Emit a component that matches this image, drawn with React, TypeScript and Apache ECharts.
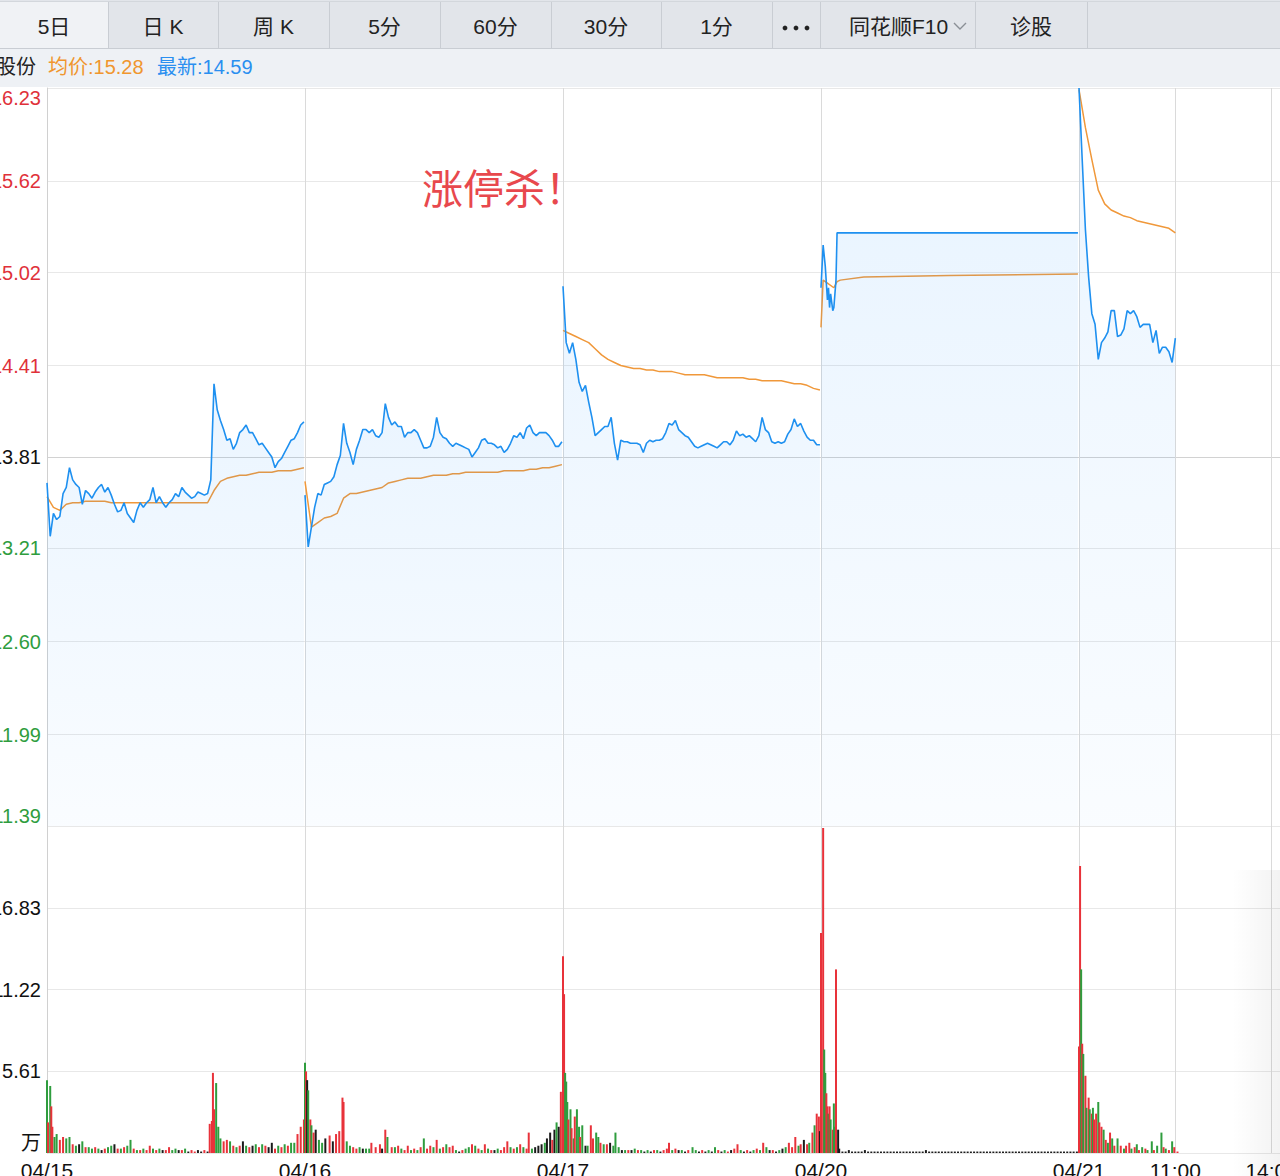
import React, { useEffect, useRef } from 'react';
import * as echarts from 'echarts';

// ---------------- DATA ----------------
const prevClose = 13.81;
const priceTicks = [11.39, 11.99, 12.6, 13.21, 13.81, 14.41, 15.02, 15.62, 16.23];
const volumeTicks = [0, 5.61, 11.22, 16.83];
const volumeMax = 22.44;
const xTickLabels = ['04/15', '04/16', '04/17', '04/20', '04/21', '11:00', '14:00'];
const MIN_PER_DAY = 241;
// tick minutes: day starts + 11:00 and 14:00 of the last day
const xTickMinutes = [0, 241, 482, 723, 964, 964 + 90, 964 + 180];
const tabLabels = ['5日', '日 K', '周 K', '5分', '60分', '30分', '1分', '', '同花顺F10', '诊股'];

// price every 3 minutes
const price0415 = [
  13.64, 13.29, 13.44, 13.40, 13.42, 13.57, 13.61, 13.74, 13.66, 13.63,
  13.61, 13.50, 13.59, 13.57, 13.54, 13.58, 13.61, 13.63, 13.58, 13.61,
  13.56, 13.50, 13.45, 13.46, 13.51, 13.44, 13.41, 13.38, 13.46, 13.51,
  13.48, 13.51, 13.53, 13.61, 13.51, 13.55, 13.51, 13.48, 13.51, 13.53,
  13.57, 13.55, 13.61, 13.58, 13.56, 13.54, 13.55, 13.58, 13.57, 13.56,
  13.57, 13.66, 14.29, 14.12, 14.05, 13.99, 13.92, 13.93, 13.86, 13.90,
  13.97, 13.99, 14.02, 13.97, 13.97, 13.93, 13.89, 13.90, 13.87, 13.84,
  13.81, 13.74, 13.78, 13.80, 13.84, 13.88, 13.92, 13.93, 13.97, 14.02,
  14.04,
];
const price0416 = [
  13.56, 13.22, 13.35, 13.48, 13.57, 13.56, 13.63, 13.64, 13.65, 13.68,
  13.76, 13.82, 14.03, 13.90, 13.84, 13.76, 13.86, 13.92, 13.99, 13.99,
  13.97, 13.99, 13.95, 13.94, 13.97, 14.16, 14.07, 14.02, 14.04, 14.01,
  14.01, 13.94, 13.97, 13.97, 13.99, 13.97, 13.92, 13.87, 13.87, 13.88,
  13.94, 14.07, 13.97, 13.94, 13.93, 13.90, 13.88, 13.90, 13.89, 13.88,
  13.87, 13.86, 13.81, 13.84, 13.87, 13.92, 13.93, 13.90, 13.90, 13.89,
  13.87, 13.88, 13.84, 13.86, 13.90, 13.95, 13.94, 13.97, 13.93, 14.00,
  14.02, 13.97, 13.95, 13.97, 13.97, 13.97, 13.95, 13.92, 13.88, 13.88,
  13.91,
];
const price0417 = [
  14.93, 14.56, 14.49, 14.56, 14.45, 14.30, 14.24, 14.28, 14.17, 14.07,
  13.95, 13.97, 13.99, 14.01, 14.01, 14.07, 13.90, 13.79, 13.92, 13.91,
  13.91, 13.90, 13.90, 13.90, 13.89, 13.84, 13.90, 13.92, 13.91, 13.92,
  13.92, 13.93, 13.97, 14.03, 14.02, 14.05, 13.99, 13.97, 13.95, 13.94,
  13.91, 13.88, 13.87, 13.88, 13.89, 13.90, 13.89, 13.88, 13.87, 13.89,
  13.91, 13.91, 13.89, 13.92, 13.98, 13.95, 13.96, 13.94, 13.95, 13.93,
  13.91, 13.95, 14.07, 13.99, 13.97, 13.91, 13.90, 13.91, 13.90, 13.91,
  13.96, 13.99, 14.06, 14.01, 14.03, 13.98, 13.94, 13.92, 13.92, 13.89,
  13.89,
];
// [minute, price]
const price0420 = [
  [0, 14.92], [2, 15.20], [4, 15.06], [6, 14.84], [7, 14.92], [8, 14.79], [9, 14.88],
  [11, 14.77], [12, 14.79], [14, 14.97], [15, 15.28], [240, 15.28],
];
const price0421 = [
  16.23, 15.76, 15.30, 14.99, 14.75, 14.68, 14.45, 14.56, 14.59, 14.63,
  14.77, 14.77, 14.60, 14.61, 14.65, 14.77, 14.75, 14.77, 14.73, 14.66,
  14.68, 14.68, 14.68, 14.56, 14.64, 14.49, 14.53, 14.53, 14.50, 14.43,
  14.59,
];

// average price every 6 minutes
const avg0415 = [
  13.55, 13.48, 13.46, 13.50, 13.51, 13.51, 13.52, 13.52, 13.52, 13.52,
  13.51, 13.51, 13.51, 13.51, 13.51, 13.51, 13.51, 13.51, 13.51, 13.51,
  13.51, 13.51, 13.51, 13.51, 13.51, 13.51, 13.59, 13.65, 13.67, 13.68,
  13.69, 13.69, 13.70, 13.71, 13.71, 13.71, 13.72, 13.72, 13.72, 13.73,
  13.74,
];
const avg0416 = [
  13.65, 13.35, 13.38, 13.41, 13.42, 13.44, 13.54, 13.57, 13.57, 13.58,
  13.59, 13.60, 13.61, 13.64, 13.65, 13.66, 13.67, 13.67, 13.67, 13.68,
  13.69, 13.69, 13.69, 13.70, 13.70, 13.71, 13.71, 13.71, 13.71, 13.71,
  13.71, 13.72, 13.72, 13.72, 13.72, 13.73, 13.73, 13.74, 13.74, 13.75,
  13.76,
];
const avg0417 = [
  14.64, 14.62, 14.60, 14.58, 14.56, 14.52, 14.48, 14.45, 14.43, 14.41,
  14.40, 14.39, 14.39, 14.38, 14.38, 14.37, 14.37, 14.37, 14.36, 14.35,
  14.35, 14.35, 14.35, 14.34, 14.33, 14.33, 14.33, 14.33, 14.33, 14.32,
  14.32, 14.31, 14.31, 14.31, 14.31, 14.30, 14.29, 14.29, 14.28, 14.26,
  14.25,
];
const avg0420 = [
  [0, 14.66], [2, 14.97], [6, 14.95], [12, 14.92], [15, 14.96], [18, 14.97],
  [40, 14.99], [120, 15.00], [240, 15.01],
];
const avg0421 = [
  16.22, 15.97, 15.76, 15.56, 15.47, 15.43, 15.41, 15.39, 15.38, 15.36,
  15.35, 15.34, 15.33, 15.32, 15.31, 15.28,
];

// volume [minute, 万股, direction: 1 up, -1 down, 0 flat]
const vol0415 = [
  [0, 5.0, -1], [1, 2.1, 1], [3, 4.6, -1], [4, 3.2, 1], [5, 1.8, 1], [7, 1.1, -1], [9, 1.3, -1],
  [12, 0.9, 1], [15, 1.1, 1], [18, 1.0, -1], [21, 1.1, -1], [24, 0.6, 1], [27, 0.5, -1],
  [30, 0.6, 0], [33, 0.8, -1], [36, 0.4, 1], [39, 0.4, -1], [42, 0.3, -1], [45, 0.4, 1],
  [48, 0.3, -1], [51, 0.2, 0], [54, 0.3, 1], [57, 0.4, -1], [60, 0.5, -1], [63, 0.6, 0],
  [66, 0.3, 1], [69, 0.3, -1], [72, 0.4, 1], [75, 0.5, -1], [78, 0.9, -1], [81, 0.3, 1],
  [84, 0.2, -1], [87, 0.2, 1], [90, 0.3, -1], [93, 0.2, 1], [96, 0.5, 1], [99, 0.3, -1],
  [102, 0.2, 1], [105, 0.3, -1], [108, 0.2, 0], [111, 0.2, 1], [114, 0.4, 1], [117, 0.2, -1],
  [120, 0.3, -1], [123, 0.2, 0], [126, 0.2, 1], [129, 0.3, -1], [132, 0.1, 0], [135, 0.2, 1],
  [138, 0.1, 1], [141, 0.2, 0], [144, 0.1, 0], [147, 0.2, 1], [150, 0.1, 0], [152, 2.0, 1],
  [154, 2.2, 1], [155, 5.5, 1], [156, 3.0, 1], [158, 4.8, -1], [160, 1.8, -1], [162, 1.0, -1],
  [165, 0.8, 1], [168, 0.9, 1], [171, 0.8, -1], [174, 0.5, 1], [177, 0.4, -1], [180, 0.5, 1],
  [183, 0.8, 0], [186, 0.5, -1], [189, 0.4, 1], [192, 0.5, 0], [195, 0.6, -1], [198, 0.4, 1],
  [201, 0.6, -1], [204, 0.5, 1], [207, 0.4, 0], [210, 0.7, 0], [213, 0.3, 1], [216, 0.5, -1],
  [219, 0.4, 1], [222, 0.6, -1], [225, 0.5, 1], [228, 0.7, -1], [231, 0.7, -1], [234, 1.3, 1],
  [237, 1.8, 1], [240, 2.3, 1],
];
const vol0416 = [
  [0, 6.2, -1], [1, 5.6, 1], [2, 5.0, 0], [3, 4.3, -1], [5, 2.3, 1], [6, 1.9, -1], [8, 1.4, 1],
  [10, 1.6, 0], [13, 0.9, -1], [16, 0.7, -1], [19, 1.0, 0], [23, 1.2, 1], [26, 0.8, 0],
  [29, 1.3, 1], [32, 1.5, 1], [35, 3.8, 1], [36, 3.5, 1], [39, 0.8, -1], [42, 0.5, -1],
  [45, 0.4, 1], [48, 0.3, 1], [51, 0.4, -1], [54, 0.3, 0], [57, 0.3, -1], [60, 0.3, -1],
  [62, 0.7, 1], [66, 0.4, 1], [70, 0.6, 1], [72, 0.3, 0], [75, 1.6, 1], [77, 1.1, -1],
  [81, 0.4, 1], [84, 0.4, -1], [87, 0.5, 1], [90, 0.3, -1], [93, 0.2, 1], [96, 0.5, 1],
  [99, 0.2, -1], [102, 0.3, 1], [105, 0.2, -1], [108, 0.4, 1], [111, 1.0, -1], [114, 0.3, 1],
  [117, 0.5, 1], [120, 0.4, -1], [123, 0.9, 1], [126, 0.3, -1], [129, 0.4, 1], [132, 0.6, -1],
  [135, 0.4, 1], [138, 0.5, 1], [141, 0.2, -1], [144, 0.1, 0], [147, 0.2, 1], [150, 0.3, -1],
  [153, 0.4, -1], [156, 0.6, 1], [159, 0.5, -1], [162, 0.3, 1], [165, 0.2, -1], [168, 0.6, 1],
  [171, 0.3, -1], [174, 0.2, 1], [177, 0.2, 0], [180, 0.3, -1], [183, 0.2, 1], [186, 0.4, 1],
  [189, 0.8, 1], [192, 0.4, -1], [195, 0.3, 1], [198, 0.4, -1], [201, 0.6, 1], [204, 0.4, -1],
  [207, 0.3, 1], [209, 1.4, 1], [212, 0.3, -1], [215, 0.4, 0], [218, 0.5, 0], [221, 0.6, 0],
  [224, 0.7, -1], [226, 1.0, 0], [229, 1.4, 0], [231, 0.9, 1], [233, 1.6, 0], [235, 2.1, -1],
  [237, 1.8, 0], [239, 4.2, 1],
];
const vol0417 = [
  [0, 13.5, 1], [1, 10.9, 1], [2, 5.5, -1], [3, 4.9, -1], [4, 3.5, -1], [5, 2.3, 1], [7, 3.0, -1],
  [8, 1.7, 1], [10, 1.0, -1], [11, 2.5, 1], [13, 3.0, -1], [15, 1.8, -1], [16, 1.1, 1],
  [18, 1.9, -1], [21, 0.5, 0], [23, 0.5, -1], [26, 1.9, 1], [28, 1.0, 1], [31, 1.4, -1],
  [33, 1.1, -1], [35, 0.7, 1], [38, 0.6, -1], [41, 0.6, 1], [44, 0.7, 0], [47, 0.5, -1],
  [49, 1.4, -1], [52, 0.4, -1], [55, 0.2, 0], [58, 0.2, -1], [61, 0.2, 1], [64, 0.2, 0],
  [67, 0.3, -1], [70, 0.2, 1], [73, 0.2, -1], [76, 0.1, 0], [79, 0.2, -1], [82, 0.1, 0],
  [85, 0.2, 1], [88, 0.2, -1], [91, 0.1, 0], [94, 0.2, 1], [97, 0.3, 1], [99, 0.7, 1],
  [102, 0.2, -1], [105, 0.3, 1], [108, 0.2, 0], [111, 0.2, -1], [114, 0.1, 0], [117, 0.2, 1],
  [121, 0.4, -1], [124, 0.2, -1], [127, 0.1, 0], [130, 0.2, 1], [133, 0.1, 0], [136, 0.2, -1],
  [139, 0.1, 0], [142, 0.4, -1], [145, 0.2, 1], [148, 0.1, 0], [151, 0.2, -1], [154, 0.1, 1],
  [157, 0.2, 0], [160, 0.3, 1], [163, 0.6, 1], [166, 0.2, -1], [169, 0.1, 0], [172, 0.2, 1],
  [175, 0.1, 0], [178, 0.2, -1], [181, 0.3, 1], [184, 0.2, -1], [187, 0.7, 1], [190, 0.4, -1],
  [193, 0.2, 0], [196, 0.2, 1], [199, 0.1, 0], [202, 0.2, -1], [205, 0.3, 0], [208, 0.4, -1],
  [211, 0.7, 1], [214, 0.4, 1], [217, 1.1, 1], [220, 0.5, -1], [222, 0.6, 1], [225, 0.9, 0],
  [228, 0.6, 1], [230, 0.7, -1], [233, 1.4, 1], [235, 1.9, -1], [237, 2.7, 1], [239, 2.5, 1],
  [240, 1.5, 0],
];
const vol0420 = [
  [0, 15.1, 1], [2, 22.3, 1], [3, 7.1, -1], [4, 5.5, -1], [5, 4.1, 1], [6, 3.2, 1], [7, 2.7, -1],
  [8, 3.2, 1], [9, 2.3, -1], [11, 1.6, 1], [12, 3.4, -1], [13, 1.8, -1], [14, 12.6, 1],
  [16, 1.6, 0], [17, 0.3, 0], [20, 0.1, 0], [23, 0.1, 0], [26, 0.2, 0], [29, 0.1, 0],
  [32, 0.1, 0], [35, 0.1, 0], [38, 0.1, 0], [41, 0.2, 0], [44, 0.1, 0], [47, 0.1, 0],
  [50, 0.1, 0], [53, 0.1, 0], [56, 0.1, 0], [59, 0.1, 0], [62, 0.1, 0], [65, 0.1, 0],
  [68, 0.1, 0], [71, 0.1, 0], [74, 0.1, 0], [77, 0.1, 0], [80, 0.1, 0], [83, 0.1, 0],
  [86, 0.1, 0], [89, 0.1, 0], [92, 0.1, 0], [95, 0.1, 0], [98, 0.2, 0], [101, 0.1, 0],
  [104, 0.1, 0], [107, 0.1, 0], [110, 0.1, 0], [113, 0.1, 0], [116, 0.1, 0], [119, 0.1, 0],
  [122, 0.1, 0], [125, 0.1, 0], [128, 0.1, 0], [131, 0.1, 0], [134, 0.1, 0], [137, 0.1, 0],
  [140, 0.1, 0], [143, 0.1, 0], [146, 0.1, 0], [149, 0.1, 0], [152, 0.1, 0], [155, 0.1, 0],
  [158, 0.1, 0], [161, 0.1, 0], [164, 0.1, 0], [167, 0.1, 0], [170, 0.1, 0], [173, 0.1, 0],
  [176, 0.1, 0], [179, 0.1, 0], [182, 0.1, 0], [185, 0.1, 0], [188, 0.1, 0], [191, 0.1, 0],
  [194, 0.1, 0], [197, 0.1, 0], [200, 0.1, 0], [203, 0.1, 0], [206, 0.1, 0], [209, 0.1, 0],
  [212, 0.1, 0], [215, 0.1, 0], [218, 0.1, 0], [221, 0.1, 0], [224, 0.1, 0], [227, 0.1, 0],
  [230, 0.1, 0], [233, 0.1, 0], [236, 0.1, 0], [239, 0.1, 0],
];
const vol0421 = [
  [0, 7.3, 1], [1, 19.7, 1], [2, 12.6, -1], [3, 7.5, 1], [4, 6.8, -1], [6, 5.3, 1], [7, 3.1, -1],
  [9, 3.8, 1], [10, 3.0, -1], [12, 2.7, 1], [13, 3.1, -1], [14, 2.3, 1], [16, 2.7, 1],
  [18, 3.5, -1], [19, 2.1, 1], [21, 1.8, 1], [23, 1.6, -1], [25, 0.9, 1], [27, 0.7, -1],
  [29, 1.4, 1], [31, 1.0, -1], [33, 0.5, 1], [36, 1.0, -1], [39, 0.5, 1], [42, 0.3, -1],
  [44, 0.5, 1], [47, 0.7, 1], [49, 0.3, -1], [52, 0.4, 1], [54, 0.6, -1], [56, 0.2, 1],
  [59, 0.4, -1], [62, 0.3, 1], [64, 0.2, -1], [68, 0.8, -1], [70, 0.2, 1], [73, 0.5, -1],
  [77, 1.4, -1], [79, 0.4, 1], [81, 0.3, -1], [84, 0.2, 1], [87, 0.8, -1], [89, 0.4, 1],
  [92, 0.1, 1],
];

// ---------------- STYLE ----------------
const FONT = '"Liberation Sans", "Noto Sans CJK SC", sans-serif';
const RED = '#e8323a';
const GREEN = '#2f9d3e';
const BLACK = '#1b1b1b';
const BLUE = '#1e90f0';
const ORANGE = '#f0983a';
const PRICE_STEP = 3;
const AVG_STEP = 6;

const stepPairs = (vals: number[], step: number, day: number) =>
  vals.map((v, i) => [day * MIN_PER_DAY + i * step, v]);
const shiftPairs = (pairs: number[][], day: number) =>
  pairs.map((p) => [day * MIN_PER_DAY + p[0], ...p.slice(1)]);

const priceDays = [
  stepPairs(price0415, PRICE_STEP, 0),
  stepPairs(price0416, PRICE_STEP, 1),
  stepPairs(price0417, PRICE_STEP, 2),
  shiftPairs(price0420, 3),
  stepPairs(price0421, PRICE_STEP, 4),
];
const avgDays = [
  stepPairs(avg0415, AVG_STEP, 0),
  stepPairs(avg0416, AVG_STEP, 1),
  stepPairs(avg0417, AVG_STEP, 2),
  shiftPairs(avg0420, 3),
  stepPairs(avg0421, AVG_STEP, 4),
];
const volumeData = [vol0415, vol0416, vol0417, vol0420, vol0421].flatMap((d, i) => shiftPairs(d, i));

const tabEdges = [0, 108, 218, 329, 440, 551, 661, 772, 820, 975, 1087];

function buildGraphic() {
  const g: any[] = [];
  g.push({ type: 'rect', shape: { x: 0, y: 0, width: 1340, height: 49 }, style: { fill: '#e2e5ea' }, z: 10 });
  g.push({ type: 'rect', shape: { x: 0, y: 2, width: 108, height: 46 }, style: { fill: '#f0f2f5' }, z: 10 });
  g.push({ type: 'rect', shape: { x: 0, y: 49, width: 1340, height: 38 }, style: { fill: '#eef1f5' }, z: 10 });
  g.push({ type: 'line', shape: { x1: 0, y1: 48.5, x2: 1340, y2: 48.5 }, style: { stroke: '#c9cdd3', lineWidth: 1 }, z: 11 });
  g.push({ type: 'line', shape: { x1: 0, y1: 1.5, x2: 1340, y2: 1.5 }, style: { stroke: '#d3d7dc', lineWidth: 1 }, z: 11 });
  tabEdges.forEach((x, i) => {
    if (i === 0) return;
    g.push({ type: 'line', shape: { x1: x + 0.5, y1: 2, x2: x + 0.5, y2: 48 }, style: { stroke: '#c9cdd3', lineWidth: 1 }, z: 11 });
  });
  tabLabels.forEach((t, i) => {
    const cx = (tabEdges[i] + tabEdges[i + 1]) / 2;
    if (i === 7) {
      [-11, 0, 11].forEach((dx) =>
        g.push({ type: 'circle', shape: { cx: cx + dx, cy: 28, r: 2.4 }, style: { fill: '#222' }, z: 12 })
      );
      return;
    }
    const off = i === 8 ? 1 : 0;
    g.push({
      type: 'text', x: cx + off, y: 26, z: 12,
      style: { text: t, fill: '#222', font: `21px ${FONT}`, align: 'center', verticalAlign: 'middle' },
    });
  });
  g.push({
    type: 'polyline', z: 12,
    shape: { points: [[954, 23], [960, 29], [966, 23]] },
    style: { stroke: '#8a8f96', lineWidth: 1.4, fill: 'none' },
  });
  // info strip
  const lastAvg = avg0421[avg0421.length - 1].toFixed(2);
  const lastPrice = price0421[price0421.length - 1].toFixed(2);
  g.push({ type: 'text', x: 36, y: 67, z: 12, style: { text: '股份', fill: '#222', font: `20px ${FONT}`, align: 'right', verticalAlign: 'middle' } });
  g.push({ type: 'text', x: 48, y: 67, z: 12, style: { text: `均价:${lastAvg}`, fill: '#f0962e', font: `20px ${FONT}`, align: 'left', verticalAlign: 'middle' } });
  g.push({ type: 'text', x: 157, y: 67, z: 12, style: { text: `最新:${lastPrice}`, fill: '#2a8ff0', font: `20px ${FONT}`, align: 'left', verticalAlign: 'middle' } });
  // annotation
  g.push({ type: 'text', x: 422, y: 190, z: 12, style: { text: '涨停杀！', fill: '#e8484d', font: `41px ${FONT}`, align: 'left', verticalAlign: 'middle' } });
  // right shade
  g.push({
    type: 'rect', z: 12, silent: true,
    shape: { x: 1232, y: 870, width: 60, height: 306 },
    style: {
      fill: new echarts.graphic.LinearGradient(0, 0, 1, 0, [
        { offset: 0, color: 'rgba(0,0,0,0)' },
        { offset: 1, color: 'rgba(0,0,0,0.06)' },
      ]),
    },
  });
  return g;
}

function buildOption(): any {
  const xLabelOf = (v: any) => {
    const i = xTickMinutes.indexOf(Number(v));
    return i >= 0 ? xTickLabels[i] : '';
  };
  const areaColor = new echarts.graphic.LinearGradient(0, 0, 0, 1, [
    { offset: 0, color: 'rgba(30,144,255,0.13)' },
    { offset: 1, color: 'rgba(30,144,255,0.035)' },
  ]);
  const hLine = (n: number, mid: number) => {
    const arr: string[] = [];
    for (let i = 0; i < n; i++) arr.push(i === mid ? '#d2d2d2' : '#e8e8e8');
    return arr;
  };
  const xAxisBase = (grid: number, showLabel: boolean) => ({
    type: 'value', gridIndex: grid, min: 0, max: 5 * MIN_PER_DAY,
    axisLine: { show: false },
    axisTick: { show: false, customValues: xTickMinutes },
    axisLabel: {
      show: showLabel, customValues: xTickMinutes, formatter: xLabelOf,
      fontSize: 21, color: '#111', fontFamily: FONT, margin: 7,
    },
    splitLine: { show: true, lineStyle: { color: '#dadada', width: 1 } },
  });

  const series: any[] = [];
  priceDays.forEach((d) => {
    series.push({
      type: 'line', xAxisIndex: 0, yAxisIndex: 0, data: d, symbol: 'none', silent: true, z: 3,
      lineStyle: { color: BLUE, width: 1.6 },
      areaStyle: { origin: 'start', color: areaColor },
    });
  });
  avgDays.forEach((d) => {
    series.push({
      type: 'line', xAxisIndex: 0, yAxisIndex: 0, data: d, symbol: 'none', silent: true, z: 2,
      lineStyle: { color: ORANGE, width: 1.5 },
    });
  });
  series.push({
    type: 'bar', xAxisIndex: 1, yAxisIndex: 1, data: volumeData, barWidth: 2, silent: true,
    encode: { x: 0, y: 1 },
    itemStyle: { color: (p: any) => (p.value[2] > 0 ? RED : p.value[2] < 0 ? GREEN : BLACK) },
  });

  return {
    animation: false,
    backgroundColor: '#ffffff',
    textStyle: { fontFamily: FONT },
    grid: [
      { left: 47, top: 88, width: 1290, height: 738, outerBoundsMode: 'none', containLabel: false },
      { left: 47, top: 826, width: 1290, height: 327, outerBoundsMode: 'none', containLabel: false },
    ],
    xAxis: [xAxisBase(0, false), xAxisBase(1, true)],
    yAxis: [
      {
        type: 'value', gridIndex: 0, min: priceTicks[0], max: priceTicks[priceTicks.length - 1],
        axisLine: { show: true, lineStyle: { color: '#d0d0d0' } },
        axisTick: { show: false, customValues: priceTicks },
        axisLabel: {
          customValues: priceTicks, fontSize: 20, fontFamily: FONT, margin: 6,
          formatter: (v: any) => Number(v).toFixed(2),
          color: (v: any) => {
            const n = parseFloat(v);
            return Math.abs(n - prevClose) < 0.001 ? '#111' : n > prevClose ? '#e0313a' : '#2f9d3e';
          },
          verticalAlignMinLabel: 'bottom', verticalAlignMaxLabel: 'top',
          showMinLabel: true, showMaxLabel: true,
        },
        splitLine: { show: true, lineStyle: { color: hLine(priceTicks.length, 4), width: 1 } },
      },
      {
        type: 'value', gridIndex: 1, min: 0, max: volumeMax,
        axisLine: { show: true, lineStyle: { color: '#d0d0d0' } },
        axisTick: { show: false, customValues: volumeTicks },
        axisLabel: {
          customValues: volumeTicks, fontSize: 20, fontFamily: FONT, margin: 6, color: '#111',
          formatter: (v: any) => (Number(v) === 0 ? '万' : Number(v).toFixed(2)),
          verticalAlignMinLabel: 'bottom', showMinLabel: true,
        },
        splitLine: { show: true, lineStyle: { color: '#e8e8e8', width: 1 } },
      },
    ],
    series,
    graphic: buildGraphic(),
  };
}

export default function App() {
  const ref = useRef<HTMLDivElement>(null);
  useEffect(() => {
    const chart = echarts.init(ref.current!, null, { renderer: 'svg', width: 1340, height: 1176 });
    chart.setOption(buildOption());
    return () => chart.dispose();
  }, []);
  return (
    <div style={{ position: 'fixed', left: 0, top: 0, width: 1280, height: 1176, overflow: 'hidden', background: '#fff' }}>
      <div ref={ref} style={{ width: 1340, height: 1176 }} />
    </div>
  );
}
